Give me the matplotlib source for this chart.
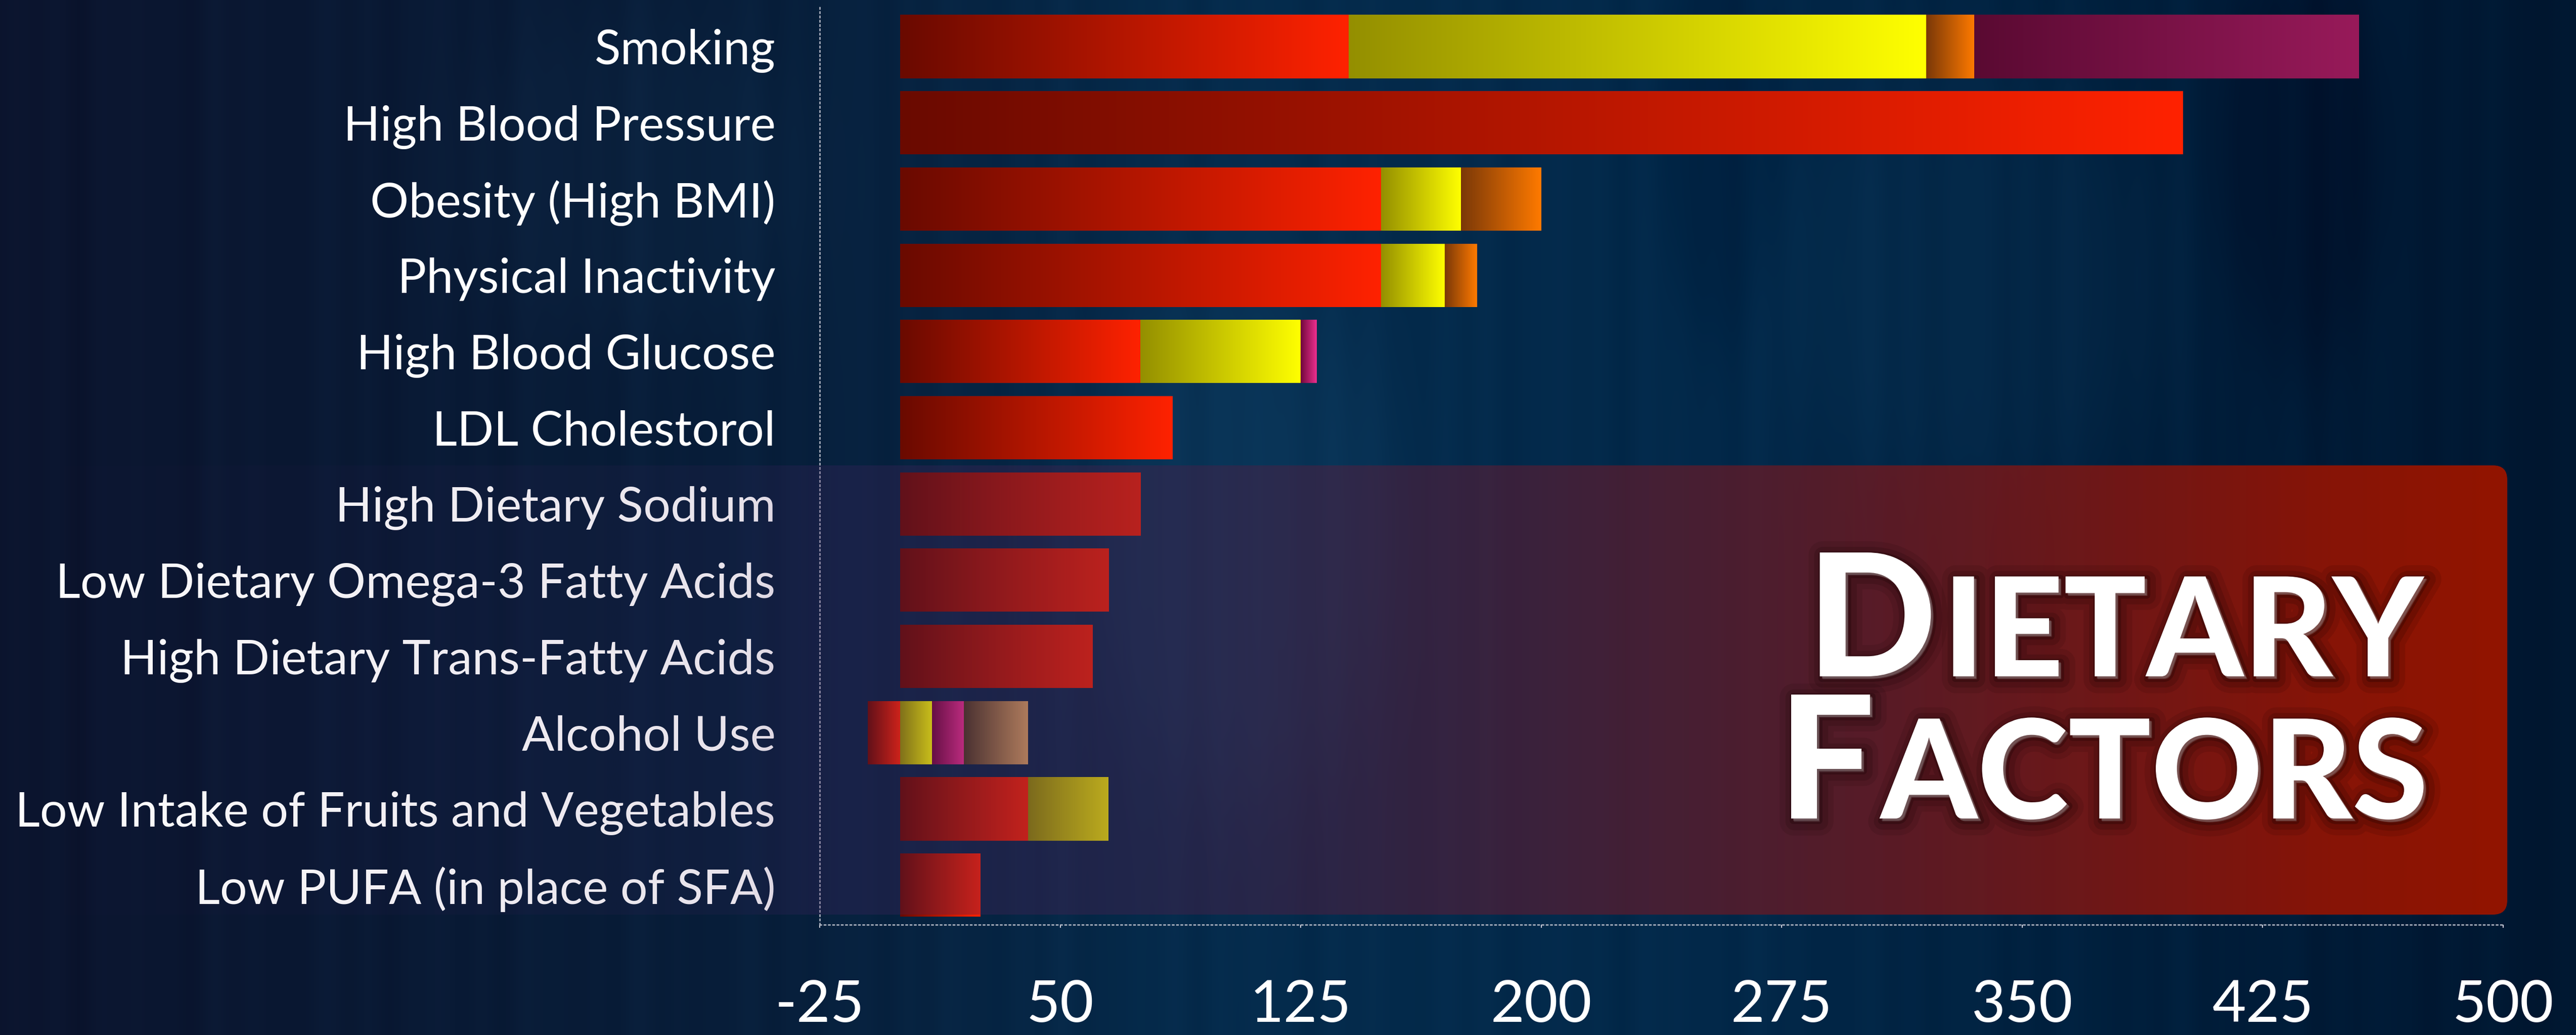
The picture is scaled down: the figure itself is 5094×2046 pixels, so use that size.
import numpy as np
import matplotlib
matplotlib.use("Agg")
import matplotlib.pyplot as plt
from matplotlib import patheffects as pe
from matplotlib.colors import to_rgb
from matplotlib.patches import FancyBboxPatch

factors = ["Smoking", "High Blood Pressure", "Obesity (High BMI)", "Physical Inactivity",
           "High Blood Glucose", "LDL Cholestorol", "High Dietary Sodium",
           "Low Dietary Omega-3 Fatty Acids", "High Dietary Trans-Fatty Acids",
           "Alcohol Use", "Low Intake of Fruits and Vegetables", "Low PUFA (in place of SFA)"]

# stacked pieces, in drawing order (negative values go left of zero)
red_part    = [140, 400, 150, 150, 75, 85, 75, 65, 60, -10, 40, 25]
yellow_part = [180,   0,  25,  20, 50,  0,  0,  0,  0,  10, 25,  0]
orange_part = [ 15,   0,  25,  10,  0,  0,  0,  0,  0,   0,  0,  0]
purple_part = [120,   0,   0,   0,  0,  0,  0,  0,  0,   0,  0,  0]
pink_part   = [  0,   0,   0,   0,  5,  0,  0,  0,  0,  10,  0,  0]
tan_part    = [  0,   0,   0,   0,  0,  0,  0,  0,  0,  20,  0,  0]

xticks = [-25, 50, 125, 200, 275, 350, 425, 500]

parts = [
    (red_part,    "#6a0a00", "#ff2200"),
    (yellow_part, "#948f00", "#ffff00"),
    (orange_part, "#7a3808", "#ff7a00"),
    (purple_part, "#5a0a32", "#981a5a"),
    (pink_part,   "#70083c", "#ee2f8f"),
    (tan_part,    "#4a3820", "#e0a860"),
]

W, H = 5094, 2046
fig = plt.figure(figsize=(W / 100, H / 100), dpi=100)

# ---- background ----
gx = np.arange(0, W, 4)
gy = np.arange(0, H, 4)
X, Y = np.meshgrid(gx, gy)
stops = [0, 1500, 2400, 3400, 4500, W]
R = np.interp(X, stops, [0.045, 0.03, 0.02, 0.01, 0.0, 0.0])
G = np.interp(X, stops, [0.08, 0.12, 0.17, 0.16, 0.11, 0.09])
B = np.interp(X, stops, [0.18, 0.23, 0.30, 0.29, 0.22, 0.19])
bg_img = np.dstack([R, G, B])

def blob(cx, cy, rx, ry):
    d = np.sqrt(((X - cx) / rx) ** 2 + ((Y - cy) / ry) ** 2)
    return 1 / (1 + np.exp((d - 1) * 7))

for cx, cy, rx, ry, s in [(2450, 1050, 300, 520, 0.035), (3900, 550, 380, 420, 0.02),
                          (4550, 300, 160, 420, -0.03), (3400, 250, 120, 420, -0.025),
                          (1250, 350, 350, 300, 0.015)]:
    m = blob(cx, cy, rx, ry)[..., None]
    bg_img = bg_img + s * m * np.array([0.5, 1.0, 1.2])
streak = 0.006 * np.sin(X * 0.071) * np.sin(X * 0.0113) + 0.004 * np.sin(X * 0.031)
bg_img = np.clip(bg_img + streak[..., None] * np.array([0.5, 1, 1.3]), 0, 1)

bg = fig.add_axes([0, 0, 1, 1], zorder=0)
bg.imshow(bg_img, extent=[0, W, H, 0], aspect="auto", interpolation="bilinear")
bg.set_xlim(0, W)
bg.set_ylim(H, 0)
bg.axis("off")

# ---- main chart ----
x_left, x_right, y_top, y_bot = 1621, 4950, 13, 1828
ax = fig.add_axes([x_left / W, 1 - y_bot / H, (x_right - x_left) / W, (y_bot - y_top) / H], zorder=1)
ax.patch.set_alpha(0)
row0, step = 92, 150.7
ax.set_xlim(-25, 500)
ax.set_ylim((y_bot - row0) / step, (y_top - row0) / step)
ax.autoscale(False)

ypos = np.arange(len(factors))
pos_base = np.zeros(len(factors))
t = np.linspace(0, 1, 256)[None, :, None]
for vals, c0, c1 in parts:
    vals = np.array(vals, dtype=float)
    lefts = np.where(vals > 0, pos_base, 0)
    bars = ax.barh(ypos, vals, left=lefts, height=0.83, color="none", edgecolor="none")
    grad = (1 - t) * np.array(to_rgb(c0)) + t * np.array(to_rgb(c1))
    for p, v in zip(bars.patches, vals):
        if v == 0:
            continue
        x0, x1 = sorted([p.get_x(), p.get_x() + p.get_width()])
        im = ax.imshow(grad, extent=[x0, x1, p.get_y() + p.get_height(), p.get_y()],
                       aspect="auto", interpolation="bilinear", zorder=2)
        im.set_clip_path(p)
    pos_base = pos_base + np.where(vals > 0, vals, 0)

ax.set_xlim(-25, 500)
ax.set_ylim((y_bot - row0) / step, (y_top - row0) / step)

ax.set_yticks(ypos, factors)
ax.set_xticks(xticks, [str(v) for v in xticks])
for lab in ax.get_yticklabels() + ax.get_xticklabels():
    lab.set_family("Lato")
ax.tick_params(axis="y", length=0, pad=63, labelsize=68.5, labelcolor="white")
ax.tick_params(axis="x", length=4, width=1.5, color="#c8ccd8", pad=74, labelsize=83,
               labelcolor="white")
for side in ["top", "right"]:
    ax.spines[side].set_visible(False)
for side in ["left", "bottom"]:
    ax.spines[side].set_color("#b8bcc8")
    ax.spines[side].set_linewidth(1.8)
    ax.spines[side].set_linestyle((0, (1.2, 2.2)))

# ---- translucent red panel ----
ov = fig.add_axes([0, 0, 1, 1], zorder=3)
ov.set_xlim(0, W)
ov.set_ylim(H, 0)
ov.axis("off")
px = np.arange(0, 4960, 4)
ostops = [0, 1500, 1650, 2300, 3300, 4600, 4960]
oa = np.interp(px, ostops, [0.0, 0.13, 0.24, 0.4, 0.6, 0.95, 1.0])
orr = np.interp(px, ostops, [0.3, 0.3, 0.3, 0.3, 0.45, 0.56, 0.58])
og = np.interp(px, ostops, [0.15, 0.15, 0.15, 0.13, 0.1, 0.08, 0.08])
ob = np.interp(px, ostops, [0.4, 0.4, 0.4, 0.3, 0.15, 0.02, 0.0])
panel_img = np.dstack([orr, og, ob, oa])
box = FancyBboxPatch((-60, 920), 4958 + 60, 1808 - 920,
                     boxstyle="round,pad=0,rounding_size=28", transform=ov.transData,
                     facecolor="none", edgecolor="none")
ov.add_patch(box)
pim = ov.imshow(panel_img, extent=[-60, 4958, 1808, 920], aspect="auto", interpolation="bilinear")
pim.set_clip_path(box)
ov.set_xlim(0, W)
ov.set_ylim(H, 0)

glow = [pe.Stroke(linewidth=40, foreground="#120000", alpha=0.10, offset=(4, -4)),
        pe.Stroke(linewidth=24, foreground="#120000", alpha=0.15, offset=(4, -4)),
        pe.Stroke(linewidth=10, foreground="#120000", alpha=0.25, offset=(3, -3)),
        pe.Normal()]

renderer = fig.canvas.get_renderer()
def small_caps(x, y, first, rest, big, small):
    t1 = ov.text(x, y, first, fontsize=big, family="Lato", fontweight="black", color="white",
                 ha="left", va="baseline", path_effects=glow)
    x1 = ov.transData.inverted().transform(t1.get_window_extent(renderer))[1][0]
    ov.text(x1 + 12, y, rest, fontsize=small, family="Lato", fontweight="black", color="white",
            ha="left", va="baseline", path_effects=glow)

small_caps(3573, 1337, "D", "IETARY", 243, 196)
small_caps(3516, 1618, "F", "ACTORS", 243, 196)

fig.savefig("out.png", dpi=100)
